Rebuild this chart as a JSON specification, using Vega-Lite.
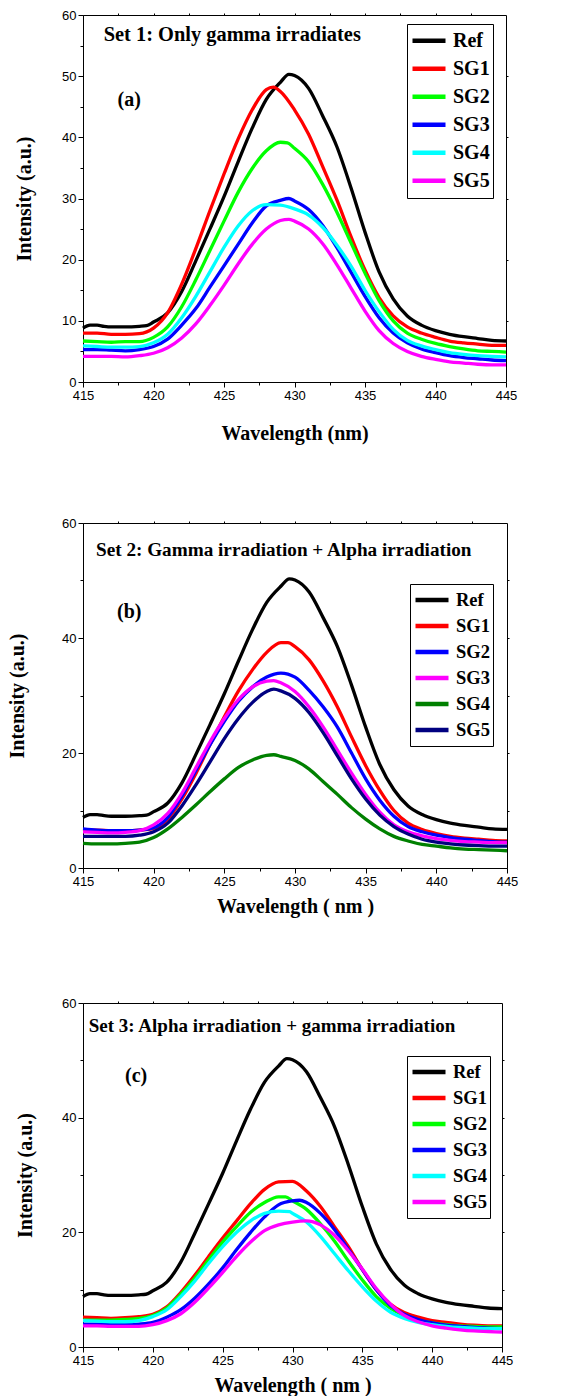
{
  "$schema": "https://vega.github.io/schema/vega-lite/v6.json",
  "padding": {"left": 7, "top": 8, "right": 5, "bottom": 0},
  "bounds": "flush",
  "spacing": 141,
  "resolve": {"scale": {"color": "independent"}, "legend": {"color": "independent"}},
  "datasets": {
    "ref": [
      {"w":415,"s":"Ref","i":8.8},{"w":415.5,"s":"Ref","i":9.3},{"w":416,"s":"Ref","i":9.3},{"w":416.5,"s":"Ref","i":9.1},{"w":417,"s":"Ref","i":9.0},{"w":418,"s":"Ref","i":9.0},{"w":419,"s":"Ref","i":9.1},{"w":419.5,"s":"Ref","i":9.2},{"w":420,"s":"Ref","i":9.8},{"w":421,"s":"Ref","i":11.3},{"w":422,"s":"Ref","i":14.8},{"w":423,"s":"Ref","i":19.8},{"w":424,"s":"Ref","i":25.0},{"w":425,"s":"Ref","i":30.3},{"w":426,"s":"Ref","i":36.0},{"w":427,"s":"Ref","i":41.5},{"w":428,"s":"Ref","i":46.2},{"w":429,"s":"Ref","i":49.0},{"w":429.6,"s":"Ref","i":50.3},{"w":430,"s":"Ref","i":50.1},{"w":431,"s":"Ref","i":48.0},{"w":432,"s":"Ref","i":43.5},{"w":433,"s":"Ref","i":38.5},{"w":434,"s":"Ref","i":31.8},{"w":435,"s":"Ref","i":24.5},{"w":436,"s":"Ref","i":18.0},{"w":437,"s":"Ref","i":13.6},{"w":438,"s":"Ref","i":10.8},{"w":439,"s":"Ref","i":9.3},{"w":440,"s":"Ref","i":8.4},{"w":441,"s":"Ref","i":7.8},{"w":442,"s":"Ref","i":7.4},{"w":443,"s":"Ref","i":7.1},{"w":444,"s":"Ref","i":6.8},{"w":445,"s":"Ref","i":6.7}
    ],
    "set1": [
      {"w":415,"s":"SG1","i":8.0},{"w":416,"s":"SG1","i":8.0},{"w":417,"s":"SG1","i":7.8},{"w":418,"s":"SG1","i":7.8},{"w":419,"s":"SG1","i":7.9},{"w":420,"s":"SG1","i":8.8},{"w":421,"s":"SG1","i":11.3},{"w":422,"s":"SG1","i":16.0},{"w":423,"s":"SG1","i":21.8},{"w":424,"s":"SG1","i":28.0},{"w":425,"s":"SG1","i":34.0},{"w":426,"s":"SG1","i":39.7},{"w":427,"s":"SG1","i":44.5},{"w":428,"s":"SG1","i":47.8},{"w":428.5,"s":"SG1","i":48.2},{"w":429,"s":"SG1","i":47.5},{"w":430,"s":"SG1","i":44.5},{"w":431,"s":"SG1","i":40.5},{"w":432,"s":"SG1","i":35.2},{"w":433,"s":"SG1","i":29.8},{"w":434,"s":"SG1","i":23.8},{"w":435,"s":"SG1","i":18.3},{"w":436,"s":"SG1","i":13.8},{"w":437,"s":"SG1","i":10.8},{"w":438,"s":"SG1","i":9.0},{"w":439,"s":"SG1","i":8.0},{"w":440,"s":"SG1","i":7.3},{"w":441,"s":"SG1","i":6.7},{"w":442,"s":"SG1","i":6.4},{"w":443,"s":"SG1","i":6.2},{"w":444,"s":"SG1","i":6.0},{"w":445,"s":"SG1","i":6.0},
      {"w":415,"s":"SG2","i":6.7},{"w":416,"s":"SG2","i":6.6},{"w":417,"s":"SG2","i":6.5},{"w":418,"s":"SG2","i":6.6},{"w":419,"s":"SG2","i":6.6},{"w":420,"s":"SG2","i":7.3},{"w":421,"s":"SG2","i":9.0},{"w":422,"s":"SG2","i":12.3},{"w":423,"s":"SG2","i":16.7},{"w":424,"s":"SG2","i":21.5},{"w":425,"s":"SG2","i":26.3},{"w":426,"s":"SG2","i":31.0},{"w":427,"s":"SG2","i":34.9},{"w":428,"s":"SG2","i":37.8},{"w":429,"s":"SG2","i":39.2},{"w":429.5,"s":"SG2","i":39.1},{"w":430,"s":"SG2","i":38.2},{"w":431,"s":"SG2","i":36.0},{"w":432,"s":"SG2","i":32.3},{"w":433,"s":"SG2","i":27.8},{"w":434,"s":"SG2","i":22.8},{"w":435,"s":"SG2","i":17.8},{"w":436,"s":"SG2","i":13.3},{"w":437,"s":"SG2","i":10.0},{"w":438,"s":"SG2","i":8.0},{"w":439,"s":"SG2","i":7.0},{"w":440,"s":"SG2","i":6.3},{"w":441,"s":"SG2","i":5.8},{"w":442,"s":"SG2","i":5.4},{"w":443,"s":"SG2","i":5.1},{"w":444,"s":"SG2","i":5.0},{"w":445,"s":"SG2","i":4.9},
      {"w":415,"s":"SG3","i":5.3},{"w":416,"s":"SG3","i":5.3},{"w":417,"s":"SG3","i":5.2},{"w":418,"s":"SG3","i":5.1},{"w":419,"s":"SG3","i":5.3},{"w":420,"s":"SG3","i":5.8},{"w":421,"s":"SG3","i":7.0},{"w":422,"s":"SG3","i":9.3},{"w":423,"s":"SG3","i":12.0},{"w":424,"s":"SG3","i":15.5},{"w":425,"s":"SG3","i":19.0},{"w":426,"s":"SG3","i":22.5},{"w":427,"s":"SG3","i":26.0},{"w":428,"s":"SG3","i":28.8},{"w":429,"s":"SG3","i":29.7},{"w":429.6,"s":"SG3","i":30.0},{"w":430,"s":"SG3","i":29.6},{"w":431,"s":"SG3","i":28.2},{"w":432,"s":"SG3","i":25.6},{"w":433,"s":"SG3","i":22.0},{"w":434,"s":"SG3","i":18.0},{"w":435,"s":"SG3","i":14.0},{"w":436,"s":"SG3","i":10.5},{"w":437,"s":"SG3","i":8.0},{"w":438,"s":"SG3","i":6.4},{"w":439,"s":"SG3","i":5.4},{"w":440,"s":"SG3","i":4.8},{"w":441,"s":"SG3","i":4.3},{"w":442,"s":"SG3","i":4.0},{"w":443,"s":"SG3","i":3.8},{"w":444,"s":"SG3","i":3.6},{"w":445,"s":"SG3","i":3.5},
      {"w":415,"s":"SG4","i":5.9},{"w":416,"s":"SG4","i":5.8},{"w":417,"s":"SG4","i":5.7},{"w":418,"s":"SG4","i":5.7},{"w":419,"s":"SG4","i":5.8},{"w":420,"s":"SG4","i":6.4},{"w":421,"s":"SG4","i":7.8},{"w":422,"s":"SG4","i":10.5},{"w":423,"s":"SG4","i":14.0},{"w":424,"s":"SG4","i":18.0},{"w":425,"s":"SG4","i":22.0},{"w":426,"s":"SG4","i":25.5},{"w":427,"s":"SG4","i":28.0},{"w":428,"s":"SG4","i":29.0},{"w":429,"s":"SG4","i":28.9},{"w":430,"s":"SG4","i":28.3},{"w":431,"s":"SG4","i":27.3},{"w":432,"s":"SG4","i":25.3},{"w":433,"s":"SG4","i":22.4},{"w":434,"s":"SG4","i":19.0},{"w":435,"s":"SG4","i":15.0},{"w":436,"s":"SG4","i":11.5},{"w":437,"s":"SG4","i":8.6},{"w":438,"s":"SG4","i":6.8},{"w":439,"s":"SG4","i":5.9},{"w":440,"s":"SG4","i":5.3},{"w":441,"s":"SG4","i":4.8},{"w":442,"s":"SG4","i":4.5},{"w":443,"s":"SG4","i":4.3},{"w":444,"s":"SG4","i":4.2},{"w":445,"s":"SG4","i":4.1},
      {"w":415,"s":"SG5","i":4.2},{"w":416,"s":"SG5","i":4.2},{"w":417,"s":"SG5","i":4.2},{"w":418,"s":"SG5","i":4.1},{"w":419,"s":"SG5","i":4.3},{"w":420,"s":"SG5","i":4.7},{"w":421,"s":"SG5","i":5.6},{"w":422,"s":"SG5","i":7.2},{"w":423,"s":"SG5","i":9.5},{"w":424,"s":"SG5","i":12.5},{"w":425,"s":"SG5","i":15.8},{"w":426,"s":"SG5","i":19.3},{"w":427,"s":"SG5","i":22.5},{"w":428,"s":"SG5","i":25.0},{"w":429,"s":"SG5","i":26.4},{"w":429.6,"s":"SG5","i":26.6},{"w":430,"s":"SG5","i":26.3},{"w":431,"s":"SG5","i":25.0},{"w":432,"s":"SG5","i":22.6},{"w":433,"s":"SG5","i":19.2},{"w":434,"s":"SG5","i":15.4},{"w":435,"s":"SG5","i":11.6},{"w":436,"s":"SG5","i":8.4},{"w":437,"s":"SG5","i":6.3},{"w":438,"s":"SG5","i":5.0},{"w":439,"s":"SG5","i":4.2},{"w":440,"s":"SG5","i":3.7},{"w":441,"s":"SG5","i":3.3},{"w":442,"s":"SG5","i":3.1},{"w":443,"s":"SG5","i":2.9},{"w":444,"s":"SG5","i":2.8},{"w":445,"s":"SG5","i":2.8}
    ],
    "set2": [
      {"w":415,"s":"SG1","i":6.6},{"w":416,"s":"SG1","i":6.6},{"w":417,"s":"SG1","i":6.5},{"w":418,"s":"SG1","i":6.5},{"w":419,"s":"SG1","i":6.6},{"w":420,"s":"SG1","i":6.9},{"w":421,"s":"SG1","i":8.5},{"w":422,"s":"SG1","i":12.0},{"w":423,"s":"SG1","i":16.5},{"w":424,"s":"SG1","i":21.5},{"w":425,"s":"SG1","i":26.3},{"w":426,"s":"SG1","i":30.8},{"w":427,"s":"SG1","i":34.5},{"w":428,"s":"SG1","i":37.5},{"w":429,"s":"SG1","i":39.2},{"w":429.5,"s":"SG1","i":39.2},{"w":430,"s":"SG1","i":38.5},{"w":431,"s":"SG1","i":36.2},{"w":432,"s":"SG1","i":32.5},{"w":433,"s":"SG1","i":28.0},{"w":434,"s":"SG1","i":22.8},{"w":435,"s":"SG1","i":17.8},{"w":436,"s":"SG1","i":13.5},{"w":437,"s":"SG1","i":10.0},{"w":438,"s":"SG1","i":7.8},{"w":439,"s":"SG1","i":6.7},{"w":440,"s":"SG1","i":6.0},{"w":441,"s":"SG1","i":5.5},{"w":442,"s":"SG1","i":5.2},{"w":443,"s":"SG1","i":5.0},{"w":444,"s":"SG1","i":4.8},{"w":445,"s":"SG1","i":4.7},
      {"w":415,"s":"SG2","i":6.8},{"w":416,"s":"SG2","i":6.6},{"w":417,"s":"SG2","i":6.5},{"w":418,"s":"SG2","i":6.5},{"w":419,"s":"SG2","i":6.6},{"w":420,"s":"SG2","i":7.0},{"w":421,"s":"SG2","i":8.8},{"w":422,"s":"SG2","i":12.5},{"w":423,"s":"SG2","i":17.0},{"w":424,"s":"SG2","i":21.5},{"w":425,"s":"SG2","i":25.5},{"w":426,"s":"SG2","i":29.0},{"w":427,"s":"SG2","i":31.5},{"w":428,"s":"SG2","i":33.2},{"w":429,"s":"SG2","i":33.9},{"w":430,"s":"SG2","i":33.2},{"w":431,"s":"SG2","i":30.9},{"w":432,"s":"SG2","i":28.0},{"w":433,"s":"SG2","i":24.5},{"w":434,"s":"SG2","i":20.0},{"w":435,"s":"SG2","i":15.5},{"w":436,"s":"SG2","i":11.8},{"w":437,"s":"SG2","i":9.0},{"w":438,"s":"SG2","i":7.2},{"w":439,"s":"SG2","i":6.3},{"w":440,"s":"SG2","i":5.7},{"w":441,"s":"SG2","i":5.3},{"w":442,"s":"SG2","i":5.0},{"w":443,"s":"SG2","i":4.8},{"w":444,"s":"SG2","i":4.6},{"w":445,"s":"SG2","i":4.5},
      {"w":415,"s":"SG3","i":6.3},{"w":416,"s":"SG3","i":6.2},{"w":417,"s":"SG3","i":6.1},{"w":418,"s":"SG3","i":6.2},{"w":419,"s":"SG3","i":6.5},{"w":420,"s":"SG3","i":7.5},{"w":421,"s":"SG3","i":9.5},{"w":422,"s":"SG3","i":13.0},{"w":423,"s":"SG3","i":17.5},{"w":424,"s":"SG3","i":22.0},{"w":425,"s":"SG3","i":26.0},{"w":426,"s":"SG3","i":29.3},{"w":427,"s":"SG3","i":31.5},{"w":428,"s":"SG3","i":32.5},{"w":428.5,"s":"SG3","i":32.6},{"w":429,"s":"SG3","i":32.2},{"w":430,"s":"SG3","i":30.7},{"w":431,"s":"SG3","i":28.0},{"w":432,"s":"SG3","i":24.5},{"w":433,"s":"SG3","i":20.5},{"w":434,"s":"SG3","i":16.5},{"w":435,"s":"SG3","i":12.8},{"w":436,"s":"SG3","i":9.7},{"w":437,"s":"SG3","i":7.5},{"w":438,"s":"SG3","i":6.3},{"w":439,"s":"SG3","i":5.6},{"w":440,"s":"SG3","i":5.1},{"w":441,"s":"SG3","i":4.8},{"w":442,"s":"SG3","i":4.6},{"w":443,"s":"SG3","i":4.5},{"w":444,"s":"SG3","i":4.4},{"w":445,"s":"SG3","i":4.4},
      {"w":415,"s":"SG4","i":4.3},{"w":416,"s":"SG4","i":4.2},{"w":417,"s":"SG4","i":4.2},{"w":418,"s":"SG4","i":4.3},{"w":419,"s":"SG4","i":4.5},{"w":420,"s":"SG4","i":5.3},{"w":421,"s":"SG4","i":6.8},{"w":422,"s":"SG4","i":8.8},{"w":423,"s":"SG4","i":11.0},{"w":424,"s":"SG4","i":13.3},{"w":425,"s":"SG4","i":15.5},{"w":426,"s":"SG4","i":17.5},{"w":427,"s":"SG4","i":18.8},{"w":428,"s":"SG4","i":19.6},{"w":428.5,"s":"SG4","i":19.7},{"w":429,"s":"SG4","i":19.4},{"w":430,"s":"SG4","i":18.7},{"w":431,"s":"SG4","i":17.2},{"w":432,"s":"SG4","i":15.0},{"w":433,"s":"SG4","i":12.8},{"w":434,"s":"SG4","i":10.5},{"w":435,"s":"SG4","i":8.5},{"w":436,"s":"SG4","i":6.8},{"w":437,"s":"SG4","i":5.5},{"w":438,"s":"SG4","i":4.7},{"w":439,"s":"SG4","i":4.1},{"w":440,"s":"SG4","i":3.8},{"w":441,"s":"SG4","i":3.5},{"w":442,"s":"SG4","i":3.3},{"w":443,"s":"SG4","i":3.2},{"w":444,"s":"SG4","i":3.1},{"w":445,"s":"SG4","i":3.0},
      {"w":415,"s":"SG5","i":5.5},{"w":416,"s":"SG5","i":5.5},{"w":417,"s":"SG5","i":5.5},{"w":418,"s":"SG5","i":5.5},{"w":419,"s":"SG5","i":5.7},{"w":420,"s":"SG5","i":6.3},{"w":421,"s":"SG5","i":7.8},{"w":422,"s":"SG5","i":10.8},{"w":423,"s":"SG5","i":14.5},{"w":424,"s":"SG5","i":18.5},{"w":425,"s":"SG5","i":22.5},{"w":426,"s":"SG5","i":26.0},{"w":427,"s":"SG5","i":28.8},{"w":428,"s":"SG5","i":30.7},{"w":428.5,"s":"SG5","i":31.1},{"w":429,"s":"SG5","i":30.8},{"w":430,"s":"SG5","i":29.5},{"w":431,"s":"SG5","i":27.0},{"w":432,"s":"SG5","i":23.5},{"w":433,"s":"SG5","i":19.5},{"w":434,"s":"SG5","i":15.5},{"w":435,"s":"SG5","i":12.0},{"w":436,"s":"SG5","i":9.2},{"w":437,"s":"SG5","i":7.2},{"w":438,"s":"SG5","i":5.9},{"w":439,"s":"SG5","i":5.0},{"w":440,"s":"SG5","i":4.5},{"w":441,"s":"SG5","i":4.2},{"w":442,"s":"SG5","i":4.0},{"w":443,"s":"SG5","i":3.9},{"w":444,"s":"SG5","i":3.8},{"w":445,"s":"SG5","i":3.8}
    ],
    "set3": [
      {"w":415,"s":"SG1","i":5.2},{"w":416,"s":"SG1","i":5.1},{"w":417,"s":"SG1","i":5.0},{"w":418,"s":"SG1","i":5.1},{"w":419,"s":"SG1","i":5.3},{"w":420,"s":"SG1","i":5.7},{"w":421,"s":"SG1","i":7.0},{"w":422,"s":"SG1","i":9.5},{"w":423,"s":"SG1","i":12.5},{"w":424,"s":"SG1","i":15.8},{"w":425,"s":"SG1","i":19.0},{"w":426,"s":"SG1","i":22.0},{"w":427,"s":"SG1","i":25.0},{"w":428,"s":"SG1","i":27.5},{"w":429,"s":"SG1","i":28.8},{"w":430,"s":"SG1","i":28.9},{"w":431,"s":"SG1","i":27.2},{"w":432,"s":"SG1","i":24.5},{"w":433,"s":"SG1","i":21.0},{"w":434,"s":"SG1","i":17.5},{"w":435,"s":"SG1","i":13.5},{"w":436,"s":"SG1","i":10.0},{"w":437,"s":"SG1","i":7.5},{"w":438,"s":"SG1","i":6.0},{"w":439,"s":"SG1","i":5.2},{"w":440,"s":"SG1","i":4.6},{"w":441,"s":"SG1","i":4.3},{"w":442,"s":"SG1","i":4.0},{"w":443,"s":"SG1","i":3.8},{"w":444,"s":"SG1","i":3.7},{"w":445,"s":"SG1","i":3.7},
      {"w":415,"s":"SG2","i":4.7},{"w":416,"s":"SG2","i":4.7},{"w":417,"s":"SG2","i":4.7},{"w":418,"s":"SG2","i":4.8},{"w":419,"s":"SG2","i":5.0},{"w":420,"s":"SG2","i":5.5},{"w":421,"s":"SG2","i":6.8},{"w":422,"s":"SG2","i":9.2},{"w":423,"s":"SG2","i":12.0},{"w":424,"s":"SG2","i":15.2},{"w":425,"s":"SG2","i":18.3},{"w":426,"s":"SG2","i":21.0},{"w":427,"s":"SG2","i":23.5},{"w":428,"s":"SG2","i":25.2},{"w":429,"s":"SG2","i":26.2},{"w":429.5,"s":"SG2","i":26.2},{"w":430,"s":"SG2","i":25.5},{"w":431,"s":"SG2","i":24.0},{"w":432,"s":"SG2","i":21.5},{"w":433,"s":"SG2","i":18.5},{"w":434,"s":"SG2","i":15.0},{"w":435,"s":"SG2","i":11.7},{"w":436,"s":"SG2","i":8.8},{"w":437,"s":"SG2","i":6.8},{"w":438,"s":"SG2","i":5.5},{"w":439,"s":"SG2","i":4.7},{"w":440,"s":"SG2","i":4.2},{"w":441,"s":"SG2","i":3.9},{"w":442,"s":"SG2","i":3.7},{"w":443,"s":"SG2","i":3.6},{"w":444,"s":"SG2","i":3.5},{"w":445,"s":"SG2","i":3.5},
      {"w":415,"s":"SG3","i":4.0},{"w":416,"s":"SG3","i":4.0},{"w":417,"s":"SG3","i":3.9},{"w":418,"s":"SG3","i":3.9},{"w":419,"s":"SG3","i":4.0},{"w":420,"s":"SG3","i":4.3},{"w":421,"s":"SG3","i":5.2},{"w":422,"s":"SG3","i":6.5},{"w":423,"s":"SG3","i":8.5},{"w":424,"s":"SG3","i":11.0},{"w":425,"s":"SG3","i":13.8},{"w":426,"s":"SG3","i":17.0},{"w":427,"s":"SG3","i":20.0},{"w":428,"s":"SG3","i":22.7},{"w":429,"s":"SG3","i":24.8},{"w":430,"s":"SG3","i":25.5},{"w":430.5,"s":"SG3","i":25.6},{"w":431,"s":"SG3","i":25.2},{"w":432,"s":"SG3","i":23.3},{"w":433,"s":"SG3","i":20.5},{"w":434,"s":"SG3","i":17.0},{"w":435,"s":"SG3","i":13.5},{"w":436,"s":"SG3","i":10.0},{"w":437,"s":"SG3","i":7.3},{"w":438,"s":"SG3","i":5.7},{"w":439,"s":"SG3","i":4.8},{"w":440,"s":"SG3","i":4.2},{"w":441,"s":"SG3","i":3.8},{"w":442,"s":"SG3","i":3.6},{"w":443,"s":"SG3","i":3.4},{"w":444,"s":"SG3","i":3.3},{"w":445,"s":"SG3","i":3.2},
      {"w":415,"s":"SG4","i":4.6},{"w":416,"s":"SG4","i":4.5},{"w":417,"s":"SG4","i":4.4},{"w":418,"s":"SG4","i":4.4},{"w":419,"s":"SG4","i":4.6},{"w":420,"s":"SG4","i":5.3},{"w":421,"s":"SG4","i":6.5},{"w":422,"s":"SG4","i":8.8},{"w":423,"s":"SG4","i":11.5},{"w":424,"s":"SG4","i":14.6},{"w":425,"s":"SG4","i":17.5},{"w":426,"s":"SG4","i":20.0},{"w":427,"s":"SG4","i":22.0},{"w":428,"s":"SG4","i":23.3},{"w":429,"s":"SG4","i":23.7},{"w":429.8,"s":"SG4","i":23.6},{"w":430,"s":"SG4","i":23.3},{"w":431,"s":"SG4","i":21.8},{"w":432,"s":"SG4","i":19.3},{"w":433,"s":"SG4","i":16.3},{"w":434,"s":"SG4","i":13.3},{"w":435,"s":"SG4","i":10.5},{"w":436,"s":"SG4","i":8.0},{"w":437,"s":"SG4","i":6.1},{"w":438,"s":"SG4","i":5.0},{"w":439,"s":"SG4","i":4.3},{"w":440,"s":"SG4","i":3.9},{"w":441,"s":"SG4","i":3.6},{"w":442,"s":"SG4","i":3.4},{"w":443,"s":"SG4","i":3.3},{"w":444,"s":"SG4","i":3.2},{"w":445,"s":"SG4","i":3.2},
      {"w":415,"s":"SG5","i":3.7},{"w":416,"s":"SG5","i":3.7},{"w":417,"s":"SG5","i":3.6},{"w":418,"s":"SG5","i":3.6},{"w":419,"s":"SG5","i":3.6},{"w":420,"s":"SG5","i":3.9},{"w":421,"s":"SG5","i":4.6},{"w":422,"s":"SG5","i":5.8},{"w":423,"s":"SG5","i":7.8},{"w":424,"s":"SG5","i":10.3},{"w":425,"s":"SG5","i":13.0},{"w":426,"s":"SG5","i":15.8},{"w":427,"s":"SG5","i":18.3},{"w":428,"s":"SG5","i":20.3},{"w":429,"s":"SG5","i":21.3},{"w":430,"s":"SG5","i":21.8},{"w":431,"s":"SG5","i":22.0},{"w":432,"s":"SG5","i":21.3},{"w":433,"s":"SG5","i":19.5},{"w":434,"s":"SG5","i":16.8},{"w":435,"s":"SG5","i":13.6},{"w":436,"s":"SG5","i":10.2},{"w":437,"s":"SG5","i":7.5},{"w":438,"s":"SG5","i":5.5},{"w":439,"s":"SG5","i":4.4},{"w":440,"s":"SG5","i":3.7},{"w":441,"s":"SG5","i":3.3},{"w":442,"s":"SG5","i":3.0},{"w":443,"s":"SG5","i":2.8},{"w":444,"s":"SG5","i":2.7},{"w":445,"s":"SG5","i":2.6}
    ]
  },
  "vconcat": [
    {
      "width": 423,
      "height": 367,
      "layer": [
        {
          "data": {"name": "ref"},
          "mark": {"type": "line", "strokeWidth": 3.3, "interpolate": "monotone"},
          "encoding": {
            "x": {"field": "w", "type": "quantitative", "scale": {"domain": [415, 445], "nice": false},
                  "axis": {"orient": "bottom", "title": "Wavelength (nm)", "titlePadding": 21, "values": [415,417.5,420,422.5,425,427.5,430,432.5,435,437.5,440,442.5,445],
                           "labelExpr": "datum.value % 5 === 0 ? datum.label : ''", "tickSize": {"condition": {"test": "datum.value % 5 === 0", "value": 5}, "value": 3}}},
            "y": {"field": "i", "type": "quantitative", "scale": {"domain": [0, 60], "nice": false},
                  "axis": {"orient": "left", "title": "Intensity (a.u.)", "titlePadding": 27, "values": [0,5,10,15,20,25,30,35,40,45,50,55,60],
                           "labelExpr": "datum.value % 10 === 0 ? datum.label : ''", "tickSize": {"condition": {"test": "datum.value % 10 === 0", "value": 5}, "value": 3}}},
            "color": {"field": "s", "type": "nominal",
                      "scale": {"domain": ["Ref","SG1","SG2","SG3","SG4","SG5"], "range": ["#000000","#ff0000","#00ff00","#0000ff","#00ffff","#ff00ff"]},
                      "legend": {"orient": "none", "legendX": 324, "legendY": 9, "clipHeight": 27.5}}
          }
        },
        {
          "data": {"name": "set1"},
          "mark": {"type": "line", "strokeWidth": 3.3, "interpolate": "monotone"},
          "encoding": {
            "x": {"field": "w", "type": "quantitative", "axis": null},
            "y": {"field": "i", "type": "quantitative", "axis": null},
            "color": {"field": "s", "type": "nominal",
                      "scale": {"domain": ["Ref","SG1","SG2","SG3","SG4","SG5"], "range": ["#000000","#ff0000","#00ff00","#0000ff","#00ffff","#ff00ff"]},
                      "legend": {"orient": "none", "legendX": 324, "legendY": 9, "clipHeight": 27.5}}
          }
        },
        {
          "data": {"values": [{}]},
          "mark": {"type": "text", "align": "left", "baseline": "alphabetic", "fontSize": 20.4},
          "encoding": {
            "x": {"datum": 416.47, "type": "quantitative", "axis": {"orient": "top", "labels": false, "title": null, "domain": false, "tickSize": 2, "values": [417.5,420,422.5,425,427.5,430,432.5,435,437.5,440,442.5]}},
            "y": {"datum": 55.7, "type": "quantitative", "axis": {"orient": "right", "labels": false, "title": null, "domain": false, "tickSize": 2, "values": [10,20,30,40,50]}},
            "text": {"value": "Set 1: Only gamma irradiates"}
          }
        },
        {
          "data": {"values": [{}]},
          "mark": {"type": "text", "align": "center", "baseline": "middle"},
          "encoding": {
            "x": {"datum": 418.28, "type": "quantitative", "axis": null},
            "y": {"datum": 46.1, "type": "quantitative", "axis": null},
            "text": {"value": "(a)"}
          }
        }
      ]
    },
    {
      "bounds": "flush",
      "spacing": 135,
      "resolve": {"scale": {"color": "independent"}, "legend": {"color": "independent"}},
      "vconcat": [
        {
          "width": 424,
          "height": 345,
          "layer": [
            {
              "data": {"name": "ref"},
              "mark": {"type": "line", "strokeWidth": 3.3, "interpolate": "monotone"},
              "encoding": {
                "x": {"field": "w", "type": "quantitative", "scale": {"domain": [415, 445], "nice": false},
                      "axis": {"orient": "bottom", "title": "Wavelength ( nm )", "titlePadding": 8, "values": [415,417.5,420,422.5,425,427.5,430,432.5,435,437.5,440,442.5,445],
                               "labelExpr": "datum.value % 5 === 0 ? datum.label : ''", "tickSize": {"condition": {"test": "datum.value % 5 === 0", "value": 5}, "value": 3}}},
                "y": {"field": "i", "type": "quantitative", "scale": {"domain": [0, 60], "nice": false},
                      "axis": {"orient": "left", "title": "Intensity (a.u.)", "titlePadding": 34, "values": [0,10,20,30,40,50,60],
                               "labelExpr": "datum.value % 20 === 0 ? datum.label : ''", "tickSize": {"condition": {"test": "datum.value % 20 === 0", "value": 5}, "value": 3}}},
                "color": {"field": "s", "type": "nominal",
                          "scale": {"domain": ["Ref","SG1","SG2","SG3","SG4","SG5"], "range": ["#000000","#ff0000","#0000ff","#ff00ff","#008000","#000080"]},
                          "legend": {"orient": "none", "legendX": 327, "legendY": 61, "clipHeight": 25.8, "labelFontSize": 18.5}}
              }
            },
            {
              "data": {"name": "set2"},
              "mark": {"type": "line", "strokeWidth": 3.3, "interpolate": "monotone"},
              "encoding": {
                "x": {"field": "w", "type": "quantitative", "axis": null},
                "y": {"field": "i", "type": "quantitative", "axis": null},
                "color": {"field": "s", "type": "nominal",
                          "scale": {"domain": ["Ref","SG1","SG2","SG3","SG4","SG5"], "range": ["#000000","#ff0000","#0000ff","#ff00ff","#008000","#000080"]},
                          "legend": {"orient": "none", "legendX": 327, "legendY": 61, "clipHeight": 25.8, "labelFontSize": 18.5}}
              }
            },
            {
              "data": {"values": [{}]},
              "mark": {"type": "text", "align": "left", "baseline": "alphabetic", "fontSize": 19.2},
              "encoding": {
                "x": {"datum": 415.92, "type": "quantitative", "axis": {"orient": "top", "labels": false, "title": null, "domain": false, "tickSize": 2, "values": [417.5,420,422.5,425,427.5,430,432.5,435,437.5,440,442.5]}},
                "y": {"datum": 54.26, "type": "quantitative", "axis": {"orient": "right", "labels": false, "title": null, "domain": false, "tickSize": 2, "values": [10,20,30,40,50]}},
                "text": {"value": "Set 2: Gamma irradiation + Alpha irradiation"}
              }
            },
            {
              "data": {"values": [{}]},
              "mark": {"type": "text", "align": "center", "baseline": "middle"},
              "encoding": {
                "x": {"datum": 418.27, "type": "quantitative", "axis": null},
                "y": {"datum": 44.6, "type": "quantitative", "axis": null},
                "text": {"value": "(b)"}
              }
            }
          ]
        },
        {
          "width": 419,
          "height": 344,
          "layer": [
            {
              "data": {"name": "ref"},
              "mark": {"type": "line", "strokeWidth": 3.3, "interpolate": "monotone"},
              "encoding": {
                "x": {"field": "w", "type": "quantitative", "scale": {"domain": [415, 445], "nice": false},
                      "axis": {"orient": "bottom", "title": "Wavelength ( nm )", "titlePadding": 8, "values": [415,417.5,420,422.5,425,427.5,430,432.5,435,437.5,440,442.5,445],
                               "labelExpr": "datum.value % 5 === 0 ? datum.label : ''", "tickSize": {"condition": {"test": "datum.value % 5 === 0", "value": 5}, "value": 3}}},
                "y": {"field": "i", "type": "quantitative", "scale": {"domain": [0, 60], "nice": false},
                      "axis": {"orient": "left", "title": "Intensity (a.u.)", "titlePadding": 26, "values": [0,10,20,30,40,50,60],
                               "labelExpr": "datum.value % 20 === 0 ? datum.label : ''", "tickSize": {"condition": {"test": "datum.value % 20 === 0", "value": 5}, "value": 3}}},
                "color": {"field": "s", "type": "nominal",
                          "scale": {"domain": ["Ref","SG1","SG2","SG3","SG4","SG5"], "range": ["#000000","#ff0000","#00ff00","#0000ff","#00ffff","#ff00ff"]},
                          "legend": {"orient": "none", "legendX": 324, "legendY": 53, "clipHeight": 25.8, "labelFontSize": 18.5}}
              }
            },
            {
              "data": {"name": "set3"},
              "mark": {"type": "line", "strokeWidth": 3.3, "interpolate": "monotone"},
              "encoding": {
                "x": {"field": "w", "type": "quantitative", "axis": null},
                "y": {"field": "i", "type": "quantitative", "axis": null},
                "color": {"field": "s", "type": "nominal",
                          "scale": {"domain": ["Ref","SG1","SG2","SG3","SG4","SG5"], "range": ["#000000","#ff0000","#00ff00","#0000ff","#00ffff","#ff00ff"]},
                          "legend": {"orient": "none", "legendX": 324, "legendY": 53, "clipHeight": 25.8, "labelFontSize": 18.5}}
              }
            },
            {
              "data": {"values": [{}]},
              "mark": {"type": "text", "align": "left", "baseline": "alphabetic", "fontSize": 19.0},
              "encoding": {
                "x": {"datum": 415.41, "type": "quantitative", "axis": {"orient": "top", "labels": false, "title": null, "domain": false, "tickSize": 2, "values": [417.5,420,422.5,425,427.5,430,432.5,435,437.5,440,442.5]}},
                "y": {"datum": 55.0, "type": "quantitative", "axis": {"orient": "right", "labels": false, "title": null, "domain": false, "tickSize": 2, "values": [10,20,30,40,50]}},
                "text": {"value": "Set 3: Alpha irradiation + gamma irradiation"}
              }
            },
            {
              "data": {"values": [{}]},
              "mark": {"type": "text", "align": "center", "baseline": "middle"},
              "encoding": {
                "x": {"datum": 418.8, "type": "quantitative", "axis": null},
                "y": {"datum": 47.3, "type": "quantitative", "axis": null},
                "text": {"value": "(c)"}
              }
            }
          ]
        }
      ]
    }
  ],
  "config": {
    "view": {"stroke": "#000000", "strokeWidth": 1},
    "axis": {
      "grid": false, "domainColor": "#000000", "tickColor": "#000000", "labelColor": "#000000",
      "labelFont": "Liberation Sans", "labelFontSize": 13, "labelPadding": 2, "labelFlush": false,
      "titleFont": "Liberation Serif", "titleFontSize": 20, "titleFontWeight": "bold", "titleColor": "#000000"
    },
    "legend": {
      "title": null, "strokeColor": "#000000", "fillColor": "#ffffff", "padding": 3,
      "symbolType": "stroke", "symbolSize": 1089, "symbolStrokeWidth": 4.5,
      "labelFont": "Liberation Serif", "labelFontWeight": "bold", "labelFontSize": 20, "labelColor": "#000000",
      "labelOffset": 5, "rowPadding": 0, "labelLimit": 120
    },
    "text": {"font": "Liberation Serif", "fontWeight": "bold", "fontSize": 20, "color": "#000000"}
  }
}
